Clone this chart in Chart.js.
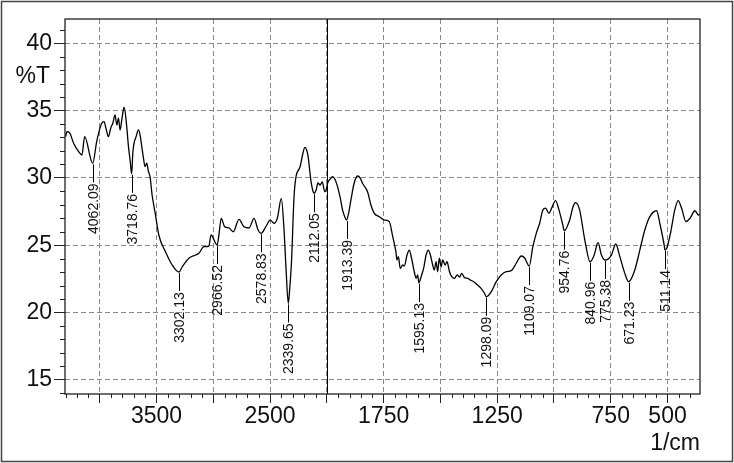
<!DOCTYPE html>
<html>
<head>
<meta charset="utf-8">
<script src="https://cdn.jsdelivr.net/npm/chart.js@4"></script>
<style>
html,body{margin:0;padding:0;background:#fff;}
#wrap{width:734px;height:463px;position:relative;}
</style>
</head>
<body>
<div id="wrap"><canvas id="c" width="734" height="463"></canvas></div>
<script>
// ---- axis settings (wavenumber axis is expanded x2 below 2000 1/cm) ----
const X_HIGH = 4306;
const X_BREAK = 2000;
const X_LOW = 357;
const Y_MIN = 13.95;
const Y_MAX = 41.8;

// ---- gridlines / tick labels ----
const xGridValues = [4000, 3500, 3000, 2500, 2000, 1750, 1500, 1250, 1000, 750, 500];
const xTickLabels = [3500, 2500, 1750, 1250, 750, 500];
const yTickValues = [15, 20, 25, 30, 35, 40];

// ---- spectrum: wavenumber (1/cm) and transmittance (%T) ----
const wavenumber = [
 4300,4289,4265,4230,4186,4157,4133,4062.09,4027,3983,
 3962,3945,3924,3903,3885,3865,3850,3835,3821,3806,
 3786,3768,3747,3733,3718.76,3709,3698,3680,3659,3645,
 3630,3615,3601,3586,3571,3557,3539,3509,3480,3421,
 3362,3302.13,3273,3215,3156,3127,3083,3039,3020,2966.52,
 2950,2930,2900,2862,2824,2774,2730,2686,2641,2606,
 2578.83,2538,2500,2465,2436,2401,2377,2359,2339.65,2328,
 2312,2289,2274,2236,2214,2194,2178,2165,2141,2125,
 2112.05,2094,2079,2059,2041,2018,2000,1997,1982,1975,
 1963,1953,1941,1931,1921,1913.39,1904,1894,1880,1865,
 1853,1843,1821,1806,1791,1769,1747,1725,1711,1696,
 1691,1685,1677,1666,1659,1647,1637,1627,1615,1607,
 1600,1595.13,1585,1574,1563,1553,1544,1534,1527,1519,
 1512,1505,1497,1490,1479,1471,1460,1450,1438,1426,
 1416,1406,1394,1380,1368,1353,1336,1321,1306,1298.09,
 1276,1254,1232,1210,1188,1166,1144,1129,1109.07,1093,
 1078,1063,1049,1037,1022,1010,993,978,961,954.76,
 931,916,905,887,865,840.96,823,806,791,775.38,
 747,728,710,688,671.23,644,622,600,578,548,
 534,516,511.14,503,487,468,453,438,419,401,
 379,364,357
];
const transmittance = [
 33.06,33.43,33.34,32.57,31.95,31.70,33.06,31.08,32.70,34.06,
 34.18,33.68,33.06,33.71,34.06,34.67,33.93,34.43,33.56,34.30,
 35.25,34.30,32.32,31.33,30.30,31.83,32.57,33.06,33.56,33.19,
 32.32,31.46,30.83,31.10,30.46,30.09,28.73,27.24,25.76,24.52,
 23.53,23.00,23.40,24.03,24.27,24.40,24.89,24.94,25.76,25.01,
 25.80,27.00,26.37,26.28,26.00,26.92,26.37,26.28,27.00,26.13,
 25.88,26.37,26.87,26.63,27.00,28.48,26.13,23.16,20.68,21.67,
 23.66,28.60,29.97,30.83,31.70,32.27,32.07,31.58,29.84,29.10,
 28.86,29.10,29.62,29.47,29.70,28.97,29.32,29.60,29.97,30.09,
 29.84,29.35,28.51,27.62,27.10,26.87,27.39,28.36,29.60,30.14,
 29.99,29.60,28.97,27.99,27.37,27.12,26.87,26.75,25.73,24.52,
 23.90,24.15,23.28,23.53,23.45,24.27,24.64,24.03,23.03,22.54,
 22.79,22.20,22.66,23.28,24.27,24.64,24.27,23.53,23.16,23.77,
 23.03,24.03,23.40,23.90,23.53,23.77,23.03,22.66,22.54,22.79,
 22.64,22.91,22.59,22.54,22.41,22.29,22.04,21.80,21.43,21.17,
 21.55,22.29,22.79,23.03,23.11,23.66,24.20,24.05,23.45,24.89,
 25.88,26.63,27.62,27.76,27.37,27.76,28.31,27.62,26.50,26.08,
 26.87,27.86,28.16,27.62,25.46,23.77,24.27,25.19,24.27,23.90,
 24.27,25.09,24.15,22.91,22.29,23.16,24.64,26.13,27.12,27.56,
 26.63,25.14,24.64,24.79,25.88,27.62,28.31,27.74,26.75,27.00,
 27.56,27.24,27.30
];

// ---- labelled peaks ----
const peakLabels = [4062.09,3718.76,3302.13,2966.52,2578.83,2339.65,2112.05,1913.39,1595.13,1298.09,1109.07,954.76,840.96,775.38,671.23,511.14];

// map wavenumber to the linear axis coordinate (expanded below the break)
function tOf(w){
  return w >= X_BREAK ? (X_HIGH - w) : (X_HIGH - X_BREAK) + 2 * (X_BREAK - w);
}
function wOf(t){
  const tb = X_HIGH - X_BREAK;
  return t <= tb ? X_HIGH - t : X_BREAK - (t - tb) / 2;
}

const points = wavenumber.map((w, i) => ({x: tOf(w), y: transmittance[i]}));

const FONT = "'Liberation Sans', Arial, sans-serif";

const extras = {
  id: 'extras',
  afterDraw(chart){
    const {ctx, chartArea: a, scales: {x, y}} = chart;
    ctx.save();
    // break line at 2000
    const xb = Math.round(x.getPixelForValue(tOf(X_BREAK))) + 0.5;
    ctx.strokeStyle = '#000'; ctx.lineWidth = 1; ctx.setLineDash([]);
    ctx.beginPath(); ctx.moveTo(xb, a.top); ctx.lineTo(xb, a.bottom); ctx.stroke();
    // plot frame
    ctx.strokeStyle = '#222'; ctx.lineWidth = 1.3;
    ctx.strokeRect(a.left, a.top, a.right - a.left, a.bottom - a.top);
    // minor x ticks
    ctx.strokeStyle = '#222'; ctx.lineWidth = 1;
    const minorX = [];
    for (let w = 4300; w > X_BREAK; w -= 100) if (w % 500) minorX.push(w);
    for (let w = 1950; w >= 400; w -= 50) if (w % 250) minorX.push(w);
    ctx.beginPath();
    minorX.forEach(w => {
      const px = Math.round(x.getPixelForValue(tOf(w))) + 0.5;
      ctx.moveTo(px, a.bottom); ctx.lineTo(px, a.bottom + 4);
    });
    // minor y ticks
    for (let v = 14; v <= 41; v++) {
      if (v % 5 === 0) continue;
      const py = Math.round(y.getPixelForValue(v)) + 0.5;
      ctx.moveTo(a.left, py); ctx.lineTo(a.left - 5, py);
    }
    ctx.stroke();
    // %T label
    ctx.fillStyle = '#111';
    ctx.font = '23px ' + FONT;
    ctx.textAlign = 'right'; ctx.textBaseline = 'middle';
    ctx.fillText('%T', 50, y.getPixelForValue(37.5));
    // peak labels
    ctx.font = '14px ' + FONT;
    ctx.strokeStyle = '#000'; ctx.lineWidth = 1;
    peakLabels.forEach(pw => {
      const idx = wavenumber.indexOf(pw);
      const px = Math.round(x.getPixelForValue(tOf(pw))) + 0.5;
      const py = y.getPixelForValue(transmittance[idx]);
      ctx.beginPath(); ctx.moveTo(px, py + 1); ctx.lineTo(px, py + 19); ctx.stroke();
      ctx.save();
      ctx.translate(px, py + 20);
      ctx.rotate(-Math.PI / 2);
      ctx.textAlign = 'right'; ctx.textBaseline = 'middle';
      ctx.fillText(pw.toFixed(2), 0, 1);
      ctx.restore();
    });
    // outer picture frame
    ctx.strokeStyle = '#444'; ctx.lineWidth = 1.5;
    ctx.strokeRect(1.5, 1.5, chart.width - 3, chart.height - 3);
    ctx.restore();
  }
};

new Chart(document.getElementById('c'), {
  type: 'line',
  data: {
    datasets: [{
      data: points,
      borderColor: '#000',
      borderWidth: 1.3,
      pointRadius: 0,
      cubicInterpolationMode: 'monotone',
      fill: false
    }]
  },
  options: {
    responsive: false,
    animation: false,
    layout: {padding: {left: 0, right: 34, top: 19, bottom: 0}},
    plugins: {legend: {display: false}, tooltip: {enabled: false}},
    scales: {
      x: {
        type: 'linear',
        min: 0,
        max: tOf(X_LOW),
        afterBuildTicks(scale){ scale.ticks = xGridValues.map(w => ({value: tOf(w)})); },
        afterFit(scale){ scale.height = 69; },
        ticks: {
          autoSkip: false, maxRotation: 0, padding: 0,
          color: '#111', font: {family: FONT, size: 23},
          callback(v){ const w = Math.round(wOf(v)); return xTickLabels.includes(w) ? String(w) : ''; }
        },
        grid: {color: '#8a8a8a', lineWidth: 1, tickLength: 9, tickColor: '#222'},
        border: {display: false, dash: [5, 3]},
        title: {display: true, text: '1/cm', align: 'end', color: '#111',
                font: {family: FONT, size: 23}, padding: {top: 0, bottom: 6}}
      },
      y: {
        min: Y_MIN, max: Y_MAX,
        afterBuildTicks(scale){ scale.ticks = yTickValues.map(v => ({value: v})); },
        afterFit(scale){ scale.width = 65; },
        ticks: {padding: 2, color: '#111', font: {family: FONT, size: 23}},
        grid: {color: '#8a8a8a', lineWidth: 1, tickLength: 11, tickColor: '#222'},
        border: {display: false, dash: [5, 3]}
      }
    }
  },
  plugins: [extras]
});
</script>
</body>
</html>
